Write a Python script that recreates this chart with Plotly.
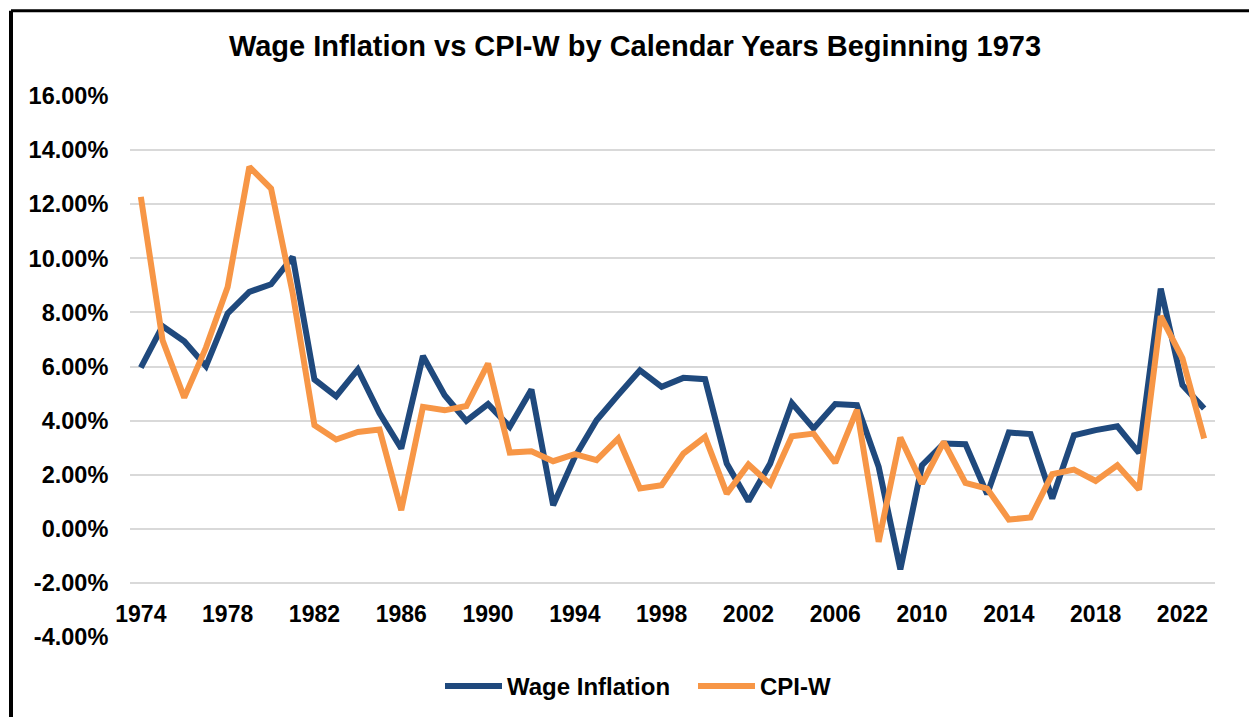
import plotly.graph_objects as go

years = list(range(1974, 2024))

wage_inflation = [
    5.96, 7.49, 6.93, 6.01, 7.96, 8.76, 9.04, 10.05, 5.52, 4.90,
    5.89, 4.27, 2.97, 6.39, 4.94, 3.99, 4.61, 3.77, 5.15, 0.87,
    2.66, 4.01, 4.95, 5.86, 5.25, 5.58, 5.53, 2.41, 1.02, 2.41,
    4.65, 3.71, 4.61, 4.57, 2.29, -1.50, 2.35, 3.15, 3.13, 1.28,
    3.56, 3.50, 1.12, 3.46, 3.65, 3.79, 2.81, 8.88, 5.31, 4.45,
]

cpi_w = [
    12.27, 6.97, 4.85, 6.70, 8.94, 13.38, 12.58, 8.70, 3.83, 3.30,
    3.58, 3.67, 0.69, 4.51, 4.38, 4.54, 6.11, 2.82, 2.87, 2.50,
    2.76, 2.54, 3.34, 1.49, 1.61, 2.78, 3.40, 1.30, 2.38, 1.65,
    3.42, 3.52, 2.44, 4.40, -0.48, 3.37, 1.67, 3.21, 1.70, 1.49,
    0.34, 0.42, 2.02, 2.19, 1.77, 2.35, 1.45, 7.86, 6.30, 3.34,
]

x_tick_years = list(range(1974, 2023, 4))
y_tick_vals = list(range(-4, 17, 2))
y_tick_text = ["-4.00%", "-2.00%", "0.00%", "2.00%", "4.00%", "6.00%",
               "8.00%", "10.00%", "12.00%", "14.00%", "16.00%"]

title_text = "Wage Inflation vs CPI-W by Calendar Years Beginning 1973"

BLUE = "#1F497D"
ORANGE = "#F79646"
GRID = "#D9D9D9"
FONT = "Arial, Liberation Sans, sans-serif"

W, H = 1257, 717
OFF = 8  # page body margin offset
# target page-pixel positions of the plot area
PL, PR, PT, PB = 130, 1215, 95.7, 636.7
L = PL - OFF
R = W - (PR - OFF)
T = PT - OFF
B = H - (PB - OFF)
pw, ph = W - L - R, H - T - B

fig = go.Figure()
fig.add_trace(go.Scatter(x=years, y=wage_inflation, mode="lines", name="Wage Inflation",
                         line=dict(color=BLUE, width=6)))
fig.add_trace(go.Scatter(x=years, y=cpi_w, mode="lines", name="CPI-W",
                         line=dict(color=ORANGE, width=6)))


def px_x(p):
    # page pixel -> paper fraction
    return (p - OFF - L) / pw


def px_y(p):
    return (H - B - (p - OFF)) / ph


frame = [
    dict(x0=px_x(11), x1=px_x(11), y0=px_y(10.5), y1=px_y(740), color="black", width=4),
    dict(x0=px_x(11), x1=px_x(1256.5), y0=px_y(10.5), y1=px_y(10.5), color="black", width=3),
    dict(x0=px_x(1256), x1=px_x(1256), y0=px_y(10.5), y1=px_y(740), color="#404040", width=1.5),
]
for f in frame:
    fig.add_shape(type="line", xref="paper", yref="paper",
                  x0=f["x0"], x1=f["x1"], y0=f["y0"], y1=f["y1"],
                  line=dict(color=f["color"], width=f["width"]))

fig.update_layout(
    width=W, height=H,
    margin=dict(l=L, r=R, t=T, b=B),
    paper_bgcolor="white", plot_bgcolor="white",
    font=dict(family=FONT, color="black"),
    title=dict(text=title_text, x=(635 - OFF) / W, xanchor="center",
               y=1 - (46 - OFF) / H, yanchor="middle", yref="container",
               font=dict(size=29, family=FONT, weight="bold", color="black")),
    showlegend=True,
    legend=dict(orientation="h", x=px_x(440), xanchor="left",
                y=px_y(686), yanchor="middle", itemwidth=57,
                entrywidth=181, entrywidthmode="pixels",
                font=dict(size=24, family=FONT, weight="bold", color="black"),
                bgcolor="rgba(0,0,0,0)"),
    xaxis=dict(range=[1973.5, 2023.5], tickmode="array", tickvals=x_tick_years,
               ticktext=[str(y) for y in x_tick_years],
               anchor="free", position=0.1,
               showgrid=False, zeroline=False, showline=False,
               ticks="outside", ticklen=10, tickcolor="rgba(0,0,0,0)",
               tickfont=dict(size=23, family=FONT, weight="bold", color="black")),
    yaxis=dict(range=[-4, 16], tickmode="array", tickvals=y_tick_vals,
               ticktext=y_tick_text,
               showgrid=True, gridcolor=GRID, gridwidth=1.5,
               zeroline=False, showline=False,
               ticks="outside", ticklen=16, tickcolor="rgba(0,0,0,0)",
               tickfont=dict(size=23.5, family=FONT, weight="bold", color="black")),
)

fig.write_html("out.html")
